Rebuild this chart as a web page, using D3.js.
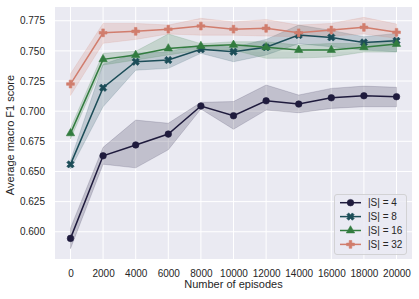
<!DOCTYPE html>
<html>
<head>
<meta charset="utf-8">
<script src="https://cdn.jsdelivr.net/npm/d3@7"></script>
<style>
  body { margin: 0; background: #fff; }
  text { font-family: "Liberation Sans", Arial, sans-serif; fill: #262626; }
</style>
</head>
<body>
<div id="chart"></div>
<script>
let width = 419;
let height = 299;
let margin = {top: 7, right: 7, bottom: 40, left: 55};

// episodes on the x axis
let episodes = [0, 2000, 4000, 6000, 8000, 10000, 12000, 14000, 16000, 18000, 20000];
let yTicks = [0.600, 0.625, 0.650, 0.675, 0.700, 0.725, 0.750, 0.775];

// mean score per |S|, plus the shaded band (lower / upper)
let s4 = [0.5945, 0.663, 0.672, 0.681, 0.7043, 0.6962, 0.7086, 0.7059, 0.7111, 0.7128, 0.712];
let s4Low = [0.586, 0.656, 0.653, 0.668, 0.7018, 0.685, 0.7009, 0.6987, 0.7023, 0.7037, 0.7037];
let s4High = [0.603, 0.670, 0.6926, 0.690, 0.7073, 0.708, 0.7217, 0.7134, 0.7189, 0.7208, 0.7198];

let s8 = [0.6559, 0.7194, 0.741, 0.7424, 0.7513, 0.7493, 0.753, 0.7631, 0.7612, 0.757, 0.7584];
let s8Low = [0.652, 0.7037, 0.734, 0.7355, 0.748, 0.741, 0.7466, 0.756, 0.7534, 0.7507, 0.7493];
let s8High = [0.659, 0.739, 0.748, 0.7493, 0.755, 0.753, 0.7595, 0.7714, 0.767, 0.7617, 0.7645];

let s16 = [0.6816, 0.743, 0.7466, 0.752, 0.754, 0.755, 0.753, 0.7507, 0.7507, 0.753, 0.7557];
let s16Low = [0.677, 0.7383, 0.7424, 0.7466, 0.7507, 0.7507, 0.7438, 0.744, 0.745, 0.749, 0.749];
let s16High = [0.686, 0.748, 0.7497, 0.764, 0.756, 0.7576, 0.7576, 0.7548, 0.7562, 0.756, 0.7595];

let s32 = [0.7225, 0.765, 0.7662, 0.768, 0.7706, 0.768, 0.7687, 0.765, 0.7673, 0.7695, 0.7654];
let s32Low = [0.713, 0.7563, 0.7595, 0.764, 0.763, 0.763, 0.7623, 0.7617, 0.7623, 0.764, 0.7604];
let s32High = [0.731, 0.7728, 0.7728, 0.7714, 0.777, 0.774, 0.776, 0.7714, 0.7728, 0.7778, 0.7723];

let seriesNames = ["|S| = 4", "|S| = 8", "|S| = 16", "|S| = 32"];
let colours = ["#1f1b3d", "#1c4d58", "#327c3f", "#d17d6d"];

let series = [
    {name: seriesNames[0], mean: s4, low: s4Low, high: s4High, colour: colours[0], marker: "circle"},
    {name: seriesNames[1], mean: s8, low: s8Low, high: s8High, colour: colours[1], marker: "x"},
    {name: seriesNames[2], mean: s16, low: s16Low, high: s16High, colour: colours[2], marker: "triangle"},
    {name: seriesNames[3], mean: s32, low: s32Low, high: s32High, colour: colours[3], marker: "plus"},
];

let x = d3.scaleLinear().domain([-950, 20950]).range([margin.left, width - margin.right]);
let y = d3.scaleLinear().domain([0.5774, 0.7864]).range([height - margin.bottom, margin.top]);

function markerPath(kind) {
    if (kind === "circle") return d3.symbol(d3.symbolCircle, 34)();
    if (kind === "triangle") return d3.symbol(d3.symbolTriangle, 30)();
    // filled plus / filled X (matplotlib "P" and "X")
    return d3.symbol(d3.symbolCross, 34)();
}

function drawMarker(g, kind, colour, cx, cy) {
    let rot = kind === "x" ? " rotate(45)" : "";
    g.append("path")
        .attr("d", markerPath(kind))
        .attr("transform", `translate(${cx},${cy})${rot}`)
        .attr("fill", colour)
        .attr("stroke", colour)
        .attr("stroke-width", 0.6);
}

let svg = d3.select("#chart").append("svg")
    .attr("width", width)
    .attr("height", height);

// plot background + grid
svg.append("rect")
    .attr("x", margin.left).attr("y", margin.top)
    .attr("width", width - margin.left - margin.right)
    .attr("height", height - margin.top - margin.bottom)
    .attr("fill", "#eaeaf2");

let grid = svg.append("g");
grid.selectAll("line.vx").data(episodes).enter().append("line")
    .attr("x1", d => x(d)).attr("x2", d => x(d))
    .attr("y1", margin.top).attr("y2", height - margin.bottom)
    .attr("stroke", "#fff").attr("stroke-width", 1);
grid.selectAll("line.hy").data(yTicks).enter().append("line")
    .attr("y1", d => y(d)).attr("y2", d => y(d))
    .attr("x1", margin.left).attr("x2", width - margin.right)
    .attr("stroke", "#fff").attr("stroke-width", 1);

// axes (no domain lines, no tick marks, seaborn darkgrid style)
let xAxis = svg.append("g")
    .attr("transform", `translate(0, ${height - margin.bottom})`)
    .call(d3.axisBottom(x).tickValues(episodes).tickSize(0).tickPadding(11).tickFormat(d3.format("d")));
let yAxis = svg.append("g")
    .attr("transform", `translate(${margin.left}, 0)`)
    .call(d3.axisLeft(y).tickValues(yTicks).tickSize(0).tickPadding(10).tickFormat(d3.format(".3f")));
for (let ax of [xAxis, yAxis]) {
    ax.select(".domain").remove();
    ax.selectAll("text").style("font-size", "10px").attr("fill", "#262626")
        .style("font-family", '"Liberation Sans", Arial, sans-serif');
}

svg.append("text")
    .attr("x", (margin.left + width - margin.right) / 2)
    .attr("y", 288)
    .attr("text-anchor", "middle")
    .style("font-size", "11px")
    .text("Number of episodes");

svg.append("text")
    .attr("transform", `translate(14, ${(margin.top + height - margin.bottom) / 2 + 2}) rotate(-90)`)
    .attr("text-anchor", "middle")
    .style("font-size", "11px")
    .text("Average macro F1 score");

// bands first, then lines + markers
let area = d3.area()
    .x((d, i) => x(episodes[i]))
    .y0(d => y(d[0]))
    .y1(d => y(d[1]));
let line = d3.line()
    .x((d, i) => x(episodes[i]))
    .y(d => y(d));

for (let s of series) {
    svg.append("path")
        .attr("d", area(s.low.map((v, i) => [v, s.high[i]])))
        .attr("fill", s.colour)
        .attr("fill-opacity", 0.2)
        .attr("stroke", s.colour)
        .attr("stroke-opacity", 0.2)
        .attr("stroke-width", 0.8);
}

for (let s of series) {
    let g = svg.append("g");
    g.append("path")
        .attr("d", line(s.mean))
        .attr("fill", "none")
        .attr("stroke", s.colour)
        .attr("stroke-width", 1.5);
    s.mean.forEach((v, i) => drawMarker(g, s.marker, s.colour, x(episodes[i]), y(v)));
}

// legend
let legend = svg.append("g");
legend.append("rect")
    .attr("x", 334.5).attr("y", 194.5)
    .attr("width", 72).attr("height", 60)
    .attr("rx", 2.5)
    .attr("fill", "#eaeaf2")
    .attr("fill-opacity", 0.8)
    .attr("stroke", "#cccccc")
    .attr("stroke-width", 0.8);
series.forEach((s, i) => {
    let ly = 202.7 + i * 13.9;
    legend.append("line")
        .attr("x1", 340).attr("x2", 361)
        .attr("y1", ly).attr("y2", ly)
        .attr("stroke", s.colour).attr("stroke-width", 1.5);
    drawMarker(legend, s.marker, s.colour, 350.5, ly);
    legend.append("text")
        .attr("x", 368).attr("y", ly + 3.6)
        .style("font-size", "10px")
        .text(s.name);
});
</script>
</body>
</html>
